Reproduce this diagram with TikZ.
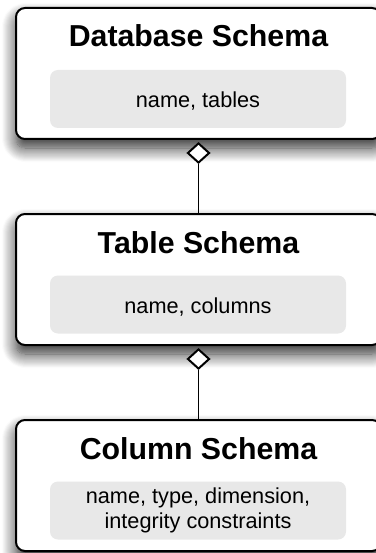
\documentclass[tikz,border=0pt]{standalone}
\usepackage{fontspec}
\setmainfont{Liberation Sans}
\usetikzlibrary{shapes.geometric,shadows.blur}
\definecolor{attrgray}{HTML}{E8E8E8}

\begin{document}
\begin{tikzpicture}[x=1pt,y=-1pt,
  schemabox/.style={draw=black, line width=2pt, rounded corners=9pt, fill=white,
    minimum width=365pt, minimum height=131pt, inner sep=0pt,
    blur shadow={shadow xshift=0pt, shadow yshift=-9pt,
      shadow blur radius=14pt, shadow blur steps=14, shadow opacity=85}},
  attrbox/.style={fill=attrgray, rounded corners=8pt, minimum width=296pt,
    minimum height=58pt, inner sep=0pt},
  attrtext/.style={anchor=base, inner sep=0pt, font=\fontsize{21.7}{25}\selectfont},
  titletext/.style={anchor=base, inner sep=0pt, font=\fontsize{30.3}{36}\selectfont\bfseries},
  agg/.style={diamond, draw=black, fill=white, line width=2pt,
    minimum width=22pt, minimum height=20pt, inner sep=0pt},
  link/.style={draw=black, line width=1.6pt}]
\useasboundingbox (0,0) rectangle (375,553);

% schema boxes (right edge runs past the page and is cropped)
\node[schemabox] (db)  at (198.5,73.5)  {};
\node[schemabox] (tbl) at (198.5,279.5) {};
\node[schemabox] (col) at (198.5,485.5) {};

% titles
\node[titletext] (dbtitle)  at (198.5,47)  {Database Schema};
\node[titletext] (tbltitle) at (198.5,253) {Table Schema};
\node[titletext] (coltitle) at (198.5,459) {Column Schema};

% attribute panels
\node[attrbox] (dbattr)  at (198,99)    {};
\node[attrbox] (tblattr) at (198,304.5) {};
\node[attrbox] (colattr) at (198,510.5) {};

\node[attrtext] (dbattrtext)  at (198,108)   {name, tables};
\node[attrtext] (tblattrtext) at (198,313)   {name, columns};
\node[attrtext] (colattrtexta) at (198,503.3) {name, type, dimension,};
\node[attrtext] (colattrtextb) at (198,528.3) {integrity constraints};

% aggregation diamonds and links
\node[agg, anchor=north] (dbagg)  at ([yshift=-2pt]db.south)  {};
\node[agg, anchor=north] (tblagg) at ([yshift=-2pt]tbl.south) {};
\draw[link] (dbagg.south) -- (tbl.north);
\draw[link] (tblagg.south) -- (col.north);
\end{tikzpicture}
\end{document}
